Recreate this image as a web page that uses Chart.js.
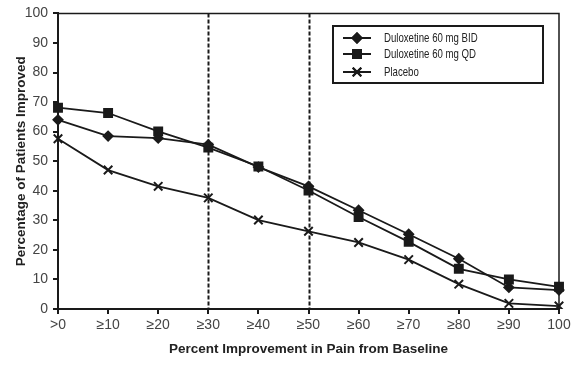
<!DOCTYPE html>
<html>
<head>
<meta charset="utf-8">
<script src="https://cdn.jsdelivr.net/npm/chart.js@4.4.1/dist/chart.umd.min.js"></script>
<style>
  html, body { margin: 0; padding: 0; background: #fff; }
  #wrap { width: 580px; height: 365px; }
</style>
</head>
<body>
<div id="wrap"><canvas id="painChart"></canvas></div>
<script>
// Data
const categories = ['>0', '≥10', '≥20', '≥30', '≥40', '≥50', '≥60', '≥70', '≥80', '≥90', '100'];
const bidValues = [64, 58.5, 57.8, 55.6, 48, 41.5, 33.4, 25.3, 17, 7.3, 6.4];
const qdValues = [68.1, 66.3, 60.1, 54.6, 48.2, 40.1, 31.1, 22.7, 13.6, 10, 7.5];
const placeboValues = [57.6, 47, 41.5, 37.6, 30.1, 26.3, 22.5, 16.7, 8.4, 1.9, 1];
const seriesNames = ['Duloxetine 60 mg BID', 'Duloxetine 60 mg QD', 'Placebo'];
const dashedAt = [3, 5]; // category index of the dashed reference lines

const ink = '#1a1a1a';
const tickColor = '#444';
const sansFamily = "'Liberation Sans', Arial, sans-serif";

// frame, dashed lines and the boxed legend
const decorPlugin = {
    id: 'decor',
    beforeDatasetsDraw(chart) {
        const { ctx, chartArea: a, scales } = chart;
        ctx.save();
        ctx.strokeStyle = ink;
        ctx.lineWidth = 2;
        ctx.setLineDash([4, 2]);
        dashedAt.forEach(i => {
            const x = Math.round(scales.x.getPixelForValue(i)) + 0.5;
            ctx.beginPath();
            ctx.moveTo(x, a.top);
            ctx.lineTo(x, a.bottom);
            ctx.stroke();
        });
        ctx.setLineDash([]);
        ctx.lineWidth = 1.5;
        ctx.beginPath();
        ctx.moveTo(a.left, a.top);
        ctx.lineTo(a.right, a.top);
        ctx.lineTo(a.right, a.bottom);
        ctx.stroke();
        ctx.restore();
    },
    afterDraw(chart) {
        const { ctx } = chart;
        const box = { x: 333, y: 26, w: 210, h: 57 };
        const rows = [38, 54, 72];
        ctx.save();
        ctx.strokeStyle = ink;
        ctx.lineWidth = 2;
        ctx.strokeRect(box.x, box.y, box.w, box.h);
        chart.data.datasets.forEach((ds, i) => {
            const y = rows[i];
            ctx.strokeStyle = ink;
            ctx.lineWidth = 2;
            ctx.beginPath();
            ctx.moveTo(343, y);
            ctx.lineTo(371, y);
            ctx.stroke();
            Chart.helpers.drawPoint(ctx, {
                pointStyle: ds.pointStyle,
                radius: ds.pointRadius,
                borderWidth: ds.pointBorderWidth || 2
            }, 357, y);
            ctx.fillStyle = ink;
            if (ds.pointStyle !== 'crossRot') ctx.fill();
            ctx.stroke();
            // narrow face is not installed, so squeeze the regular one
            ctx.save();
            ctx.translate(384, y);
            ctx.scale(0.74, 1);
            ctx.fillStyle = '#222';
            ctx.font = '13px ' + sansFamily;
            ctx.textBaseline = 'middle';
            ctx.textAlign = 'left';
            ctx.fillText(ds.label, 0, 0);
            ctx.restore();
        });
        ctx.restore();
    }
};

function lineSeries(label, data, style, radius) {
    return {
        label: label,
        data: data,
        borderColor: ink,
        backgroundColor: ink,
        borderWidth: 1.8,
        pointStyle: style,
        pointRadius: radius,
        pointBorderWidth: 2,
        pointBackgroundColor: ink,
        pointBorderColor: ink,
        tension: 0
    };
}

new Chart(document.getElementById('painChart'), {
    type: 'line',
    data: {
        labels: categories,
        datasets: [
            lineSeries(seriesNames[0], bidValues, 'rectRot', 4.5),
            lineSeries(seriesNames[1], qdValues, 'rect', 5.6),
            lineSeries(seriesNames[2], placeboValues, 'crossRot', 6)
        ]
    },
    options: {
        responsive: true,
        maintainAspectRatio: false,
        animation: false,
        layout: { padding: { top: 10, right: 21, bottom: 0, left: 0 } },
        plugins: {
            legend: { display: false },
            tooltip: { enabled: false }
        },
        scales: {
            x: {
                type: 'category',
                offset: false,
                afterFit: s => { s.height = 56; },
                grid: { drawOnChartArea: false, drawTicks: true, tickLength: 5, color: ink, lineWidth: 2 },
                border: { display: true, color: ink, width: 2 },
                ticks: { color: tickColor, padding: 3, maxRotation: 0, autoSkip: false,
                         font: { family: sansFamily, size: 14 } },
                title: { display: true, text: 'Percent Improvement in Pain from Baseline', color: '#222',
                         padding: { top: 0, bottom: 8 },
                         font: { family: sansFamily, size: 13.5, weight: 'bold' } }
            },
            y: {
                min: 0,
                max: 100,
                afterFit: s => { s.width = 58; },
                grid: { drawOnChartArea: false, drawTicks: true, tickLength: 5, color: ink, lineWidth: 2 },
                border: { display: true, color: ink, width: 2 },
                ticks: { stepSize: 10, color: tickColor, padding: 5,
                         font: { family: sansFamily, size: 14 } },
                title: { display: true, text: 'Percentage of Patients Improved', color: '#222',
                         padding: { top: 13, bottom: 0 },
                         font: { family: sansFamily, size: 13.5, weight: 'bold' } }
            }
        }
    },
    plugins: [decorPlugin]
});
</script>
</body>
</html>
